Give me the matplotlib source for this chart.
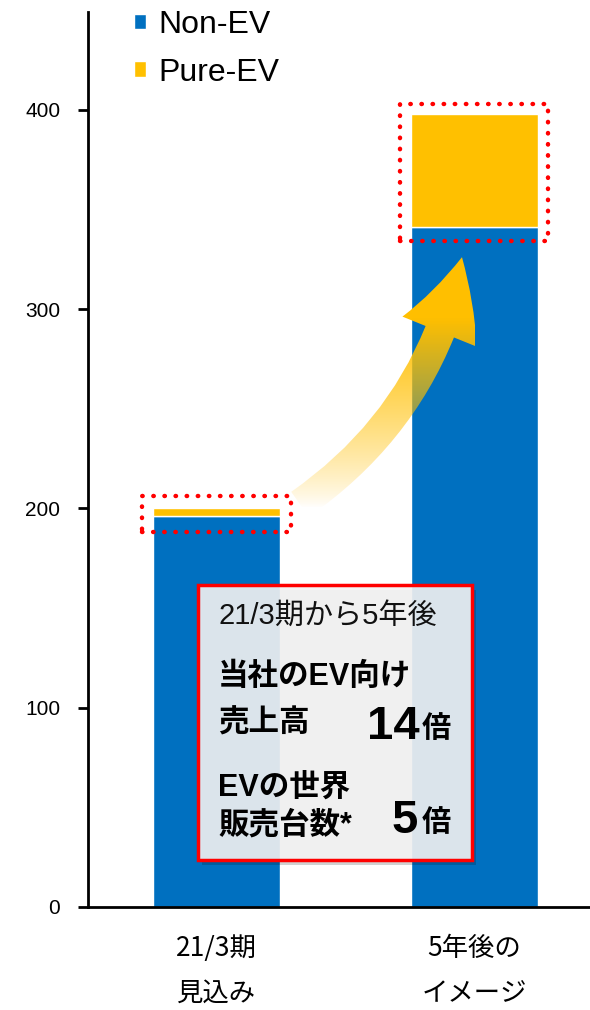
import numpy as np
import matplotlib.pyplot as plt
from matplotlib.patches import Rectangle, FancyArrowPatch

plt.rcParams['font.family'] = ['Liberation Sans', 'Noto Sans CJK JP', 'DejaVu Sans']

categories = ['21/3期\n見込み', '5年後の\nイメージ']
non_ev = [196, 341]
pure_ev = [4, 57]
yticks = [0, 100, 200, 300, 400]

blue = '#0070C0'
yellow = '#FFC000'

fig = plt.figure(figsize=(5.9, 10.1), dpi=100)
ax = fig.add_axes([88/590, 103/1010, 1 - 88/590, (907-12)/1010])

x = np.arange(len(categories))
w = 0.493
ax.bar(x, non_ev, w, color=blue, edgecolor='white', linewidth=1, label='Non-EV', zorder=2)
ax.bar(x, pure_ev, w, bottom=non_ev, color=yellow, edgecolor='white', linewidth=1, label='Pure-EV', zorder=2)

ax.set_xlim(-0.499, 1.45)
ax.set_ylim(0, 449)
ax.set_yticks(yticks)
ax.set_yticklabels([str(t) for t in yticks], fontsize=15)
ax.set_xticks(x)
ax.set_xticklabels(categories, fontsize=19, linespacing=1.85, family=['Noto Sans CJK JP'])
ax.tick_params(axis='y', length=7, width=2, pad=13)
ax.tick_params(axis='x', length=0, pad=20)
for s in ['top', 'right']:
    ax.spines[s].set_visible(False)
ax.spines['left'].set_linewidth(2)
ax.spines['bottom'].set_linewidth(2)

leg = ax.legend(loc='upper left', bbox_to_anchor=(134/590, 1 - 10/1010), bbox_transform=fig.transFigure,
                frameon=False, fontsize=23, borderpad=0, borderaxespad=0,
                handlelength=0.36, handleheight=0.36, handletextpad=0.4, labelspacing=0.55)

# dotted highlight boxes
pads = [(8, 6), (7, 5)]
for i in range(2):
    top = non_ev[i] + pure_ev[i]
    y0, y1 = non_ev[i] - pads[i][0], top + pads[i][1]
    ax.add_patch(Rectangle((x[i] - w/2 - 0.042, y0), w + 0.084, y1 - y0, fill=False,
                           edgecolor='#FF0000', linewidth=3.2, linestyle=(0, (0.1, 2.4)),
                           capstyle='round', zorder=4))

# gradient arrow
arrow = FancyArrowPatch((0.324, 202), (0.953, 326), connectionstyle='arc3,rad=0.2',
                        arrowstyle='simple,head_width=2.9,head_length=2.8,tail_width=1.1',
                        mutation_scale=20, shrinkA=0, shrinkB=0,
                        facecolor='none', edgecolor='none', zorder=3)
ax.add_patch(arrow)
gy = np.linspace(190, 340, 300)
alpha = np.clip((gy - 200) / 95, 0, 1) ** 0.8
img = np.zeros((300, 2, 4))
img[:, :, 0] = 1.0
img[:, :, 1] = 0.75
img[:, :, 2] = 0.0
img[:, :, 3] = alpha[:, None]
im = ax.imshow(img, extent=(0.28, 1.0, 190, 340), aspect='auto', zorder=3,
               origin='lower', interpolation='bilinear')
im.set_clip_path(arrow)
ax.set_xlim(-0.499, 1.45)
ax.set_ylim(0, 449)

# annotation box
bx, by, bw, bh = 198/590, 1 - 860/1010, (472-198)/590, (860-585)/1010
shadow = Rectangle((bx + 4/590, by - 5/1010), bw, bh, transform=fig.transFigure,
                   facecolor='#000000', alpha=0.18, edgecolor='none', zorder=4)
fig.add_artist(shadow)
box = Rectangle((bx, by), bw, bh, transform=fig.transFigure,
                facecolor='#F4F4F4', alpha=0.9, edgecolor='none', zorder=5)
fig.add_artist(box)
border = Rectangle((bx, by), bw, bh, transform=fig.transFigure,
                   facecolor='none', edgecolor='#FF0000', linewidth=2.5, zorder=6)
fig.add_artist(border)

def ft(px, py, s, **kw):
    fig.text(px/590, 1 - py/1010, s, zorder=7, **kw)

ft(218, 616, '21/3期から5年後', fontsize=21, va='center', color='#111111')
ft(218, 677, '当社のEV向け', fontsize=22, fontweight='bold', va='center')
ft(218, 724, '売上高', fontsize=22, fontweight='bold', va='center')
ft(420, 727, '14', fontsize=34, fontweight='bold', va='center', ha='right')
ft(451, 729, '倍', fontsize=21, fontweight='bold', va='center', ha='right')
ft(218, 788, 'EVの世界', fontsize=22, fontweight='bold', va='center')
ft(218, 826, '販売台数*', fontsize=22, fontweight='bold', va='center')
ft(418, 821, '5', fontsize=34, fontweight='bold', va='center', ha='right')
ft(451, 823, '倍', fontsize=21, fontweight='bold', va='center', ha='right')

fig.savefig('out.png', dpi=100)
